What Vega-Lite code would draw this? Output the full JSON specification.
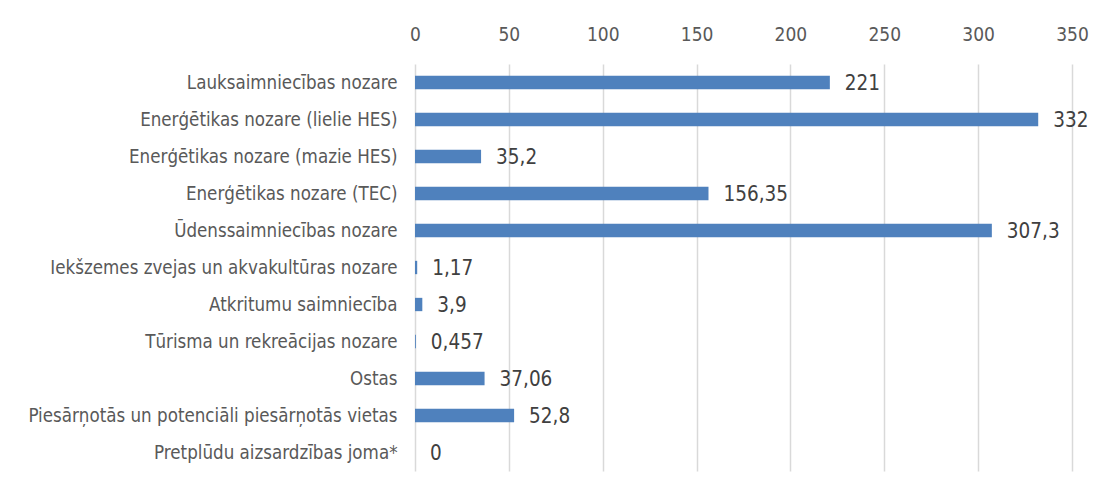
{
  "$schema": "https://vega.github.io/schema/vega-lite/v6.json",
  "width": 657,
  "height": 407,
  "autosize": {"type": "none"},
  "padding": {"left": 415, "top": 64, "right": 38, "bottom": 22},
  "background": "white",
  "config": {
    "view": {"stroke": null},
    "locale": {"number": {"decimal": ",", "thousands": " ", "grouping": [3], "currency": ["", ""]}},
    "font": "DejaVu Sans Condensed"
  },
  "data": {
    "values": [
      {"nozare": "Lauksaimniecības nozare", "vertiba": 221},
      {"nozare": "Enerģētikas nozare (lielie HES)", "vertiba": 332},
      {"nozare": "Enerģētikas nozare (mazie HES)", "vertiba": 35.2},
      {"nozare": "Enerģētikas nozare (TEC)", "vertiba": 156.35},
      {"nozare": "Ūdenssaimniecības nozare", "vertiba": 307.3},
      {"nozare": "Iekšzemes zvejas un akvakultūras nozare", "vertiba": 1.17},
      {"nozare": "Atkritumu saimniecība", "vertiba": 3.9},
      {"nozare": "Tūrisma un rekreācijas nozare\u00a0", "vertiba": 0.457},
      {"nozare": "Ostas", "vertiba": 37.06},
      {"nozare": "Piesārņotās un potenciāli piesārņotās vietas\u00a0", "vertiba": 52.8},
      {"nozare": "Pretplūdu aizsardzības joma*", "vertiba": 0}
    ]
  },
  "encoding": {
    "y": {
      "field": "nozare",
      "type": "nominal",
      "sort": null,
      "scale": {"paddingInner": 0.64, "paddingOuter": 0.32},
      "axis": {
        "title": null,
        "domain": false,
        "ticks": false,
        "labelFont": "DejaVu Sans Condensed",
        "labelFontSize": 18.6,
        "labelColor": "#595959",
        "labelPadding": 18,
        "labelLimit": 420
      }
    },
    "x": {
      "field": "vertiba",
      "type": "quantitative",
      "scale": {"domain": [0, 350], "nice": false},
      "axis": {
        "orient": "top",
        "title": null,
        "values": [0, 50, 100, 150, 200, 250, 300, 350],
        "domain": false,
        "ticks": false,
        "grid": true,
        "gridColor": "#d9d9d9",
        "gridWidth": 1.5,
        "labelFont": "DejaVu Sans Condensed",
        "labelFontSize": 19,
        "labelColor": "#595959",
        "labelPadding": 20,
        "labelFlush": false,
        "labelOverlap": false,
        "format": "d"
      }
    }
  },
  "layer": [
    {"mark": {"type": "bar", "color": "#4f81bd"}},
    {
      "mark": {"type": "text", "align": "left", "baseline": "middle", "dx": 15, "dy": 1, "font": "DejaVu Sans Condensed", "fontSize": 20.5, "color": "#404040"},
      "encoding": {"text": {"field": "vertiba", "type": "quantitative", "format": "~g"}}
    }
  ]
}
